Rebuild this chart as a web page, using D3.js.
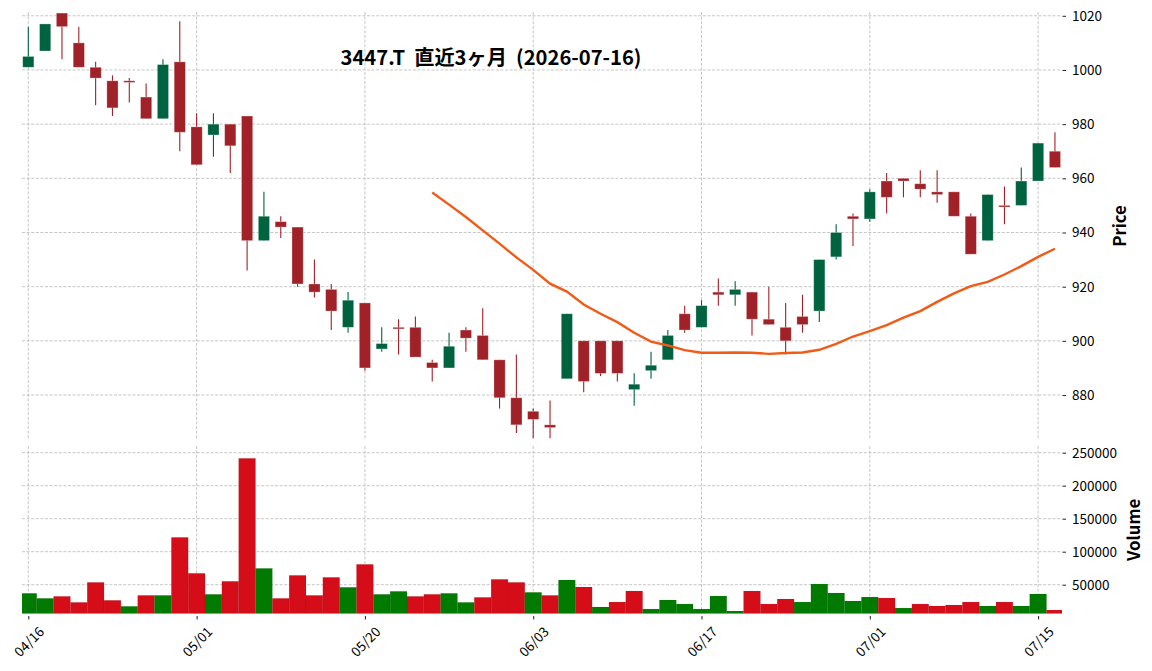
<!DOCTYPE html>
<html>
<head>
<meta charset="utf-8">
<script src="https://cdn.jsdelivr.net/npm/d3@7"></script>
<style>
  body { margin: 0; background: #fff; }
  text { font-family: "Noto Sans CJK JP", "Noto Sans", sans-serif; }
</style>
</head>
<body>
<div id="chart"></div>
<script>
// trading days (04/16 - 07/16)
var dates = ["04/16","04/17","04/20","04/21","04/22","04/23","04/24","04/27","04/28","04/30",
             "05/01","05/07","05/08","05/11","05/12","05/13","05/14","05/15","05/18","05/19",
             "05/20","05/21","05/22","05/25","05/26","05/27","05/28","05/29","06/01","06/02",
             "06/03","06/04","06/05","06/08","06/09","06/10","06/11","06/12","06/15","06/16",
             "06/17","06/18","06/19","06/22","06/23","06/24","06/25","06/26","06/29","06/30",
             "07/01","07/02","07/03","07/06","07/07","07/08","07/09","07/10","07/13","07/14",
             "07/15","07/16"];

var opens  = [1001,1007,1021,1010,1001,996,996,990,982,1003, 979,976,980,983,937,944,942,921,919,905,
              914,897,905,905,892,890,904,902,893,879, 874,869,886,900,900,900,882,889,893,910,
              905,918,917,918,908,905,909,911,931,946, 945,959,960,958,955,955,946,937,950,950,
              959,970];
var highs  = [1016,1017,1021,1016,1003,998,997,995,1004,1018, 984,984,980,983,955,946,942,930,921,918,
              914,905,908,909,893,903,905,912,893,895, 875,878,910,900,900,900,888,896,904,913,
              915,923,922,918,920,914,917,930,943,947, 956,962,960,963,963,955,947,954,957,964,
              973,977];
var lows   = [1001,1007,1004,1001,987,983,988,982,982,970, 965,968,962,926,937,938,920,916,904,903,
              889,896,895,894,885,890,896,893,875,866, 864,864,886,881,887,885,876,886,893,903,
              905,913,913,902,906,895,903,907,930,935, 944,947,953,953,951,946,932,937,943,950,
              959,964];
var closes = [1005,1017,1016,1001,997,986,996,982,1002,977, 965,980,972,937,946,942,921,918,911,915,
              890,899,905,894,890,898,901,893,879,869, 871,868,910,885,888,888,884,891,902,904,
              913,917,919,908,906,900,906,930,940,945, 955,953,959,956,954,946,932,954,950,959,
              973,964];
var volumes = [36900,29300,32300,23200,53500,26300,17200,33800,33800,121700,
               67200,35400,55100,241400,74700,29300,64100,33800,61100,46000,
               80800,35400,39900,32300,35400,36900,23200,30800,58100,53500,
               38400,33800,57100,46500,16200,23700,40400,13100,26800,20700,
               13100,32800,10100,40400,20700,28300,23700,51000,37400,25300,
               31300,29800,14600,20700,17700,19200,23700,17700,23700,17700,
               35900,11600];
// 25-day moving average as drawn
var ma25 = [null,null,null,null,null,null,null,null,null,null,
            null,null,null,null,null,null,null,null,null,null,
            null,null,null,null,954.8,950.3,945.7,940.8,935.9,930.8,
            926.2,921.1,918.2,913.4,910.0,906.9,903.0,899.7,898.3,896.6,
            895.6,895.6,895.7,895.6,895.2,895.5,895.7,896.7,898.9,901.6,
            903.6,905.8,908.6,911.0,914.4,917.5,920.2,921.8,924.5,927.6,
            931.0,934.0];

var tickDates = ["04/16","05/01","05/20","06/03","06/17","07/01","07/15"];
var priceTicks = [880, 900, 920, 940, 960, 980, 1000, 1020];
var volumeTicks = [50000, 100000, 150000, 200000, 250000];
var title = "3447.T\u00a0\u00a0直近3ヶ月\u00a0\u00a0(2026-07-16)";

var w = 1152;
var h = 671;
var left = 22, right = 1062;
var pTop = 12, pBottom = 440;
var vTop = 446, vBottom = 613.7;

var upColor = "#006340", downColor = "#a02128";
var vUpColor = "#007a00", vDownColor = "#d50d18";

var tickIdx = tickDates.map(function(d) { return dates.indexOf(d); });

var x = d3.scaleLinear().domain([-0.375, dates.length - 0.58]).range([left, right]);
var step = x(1) - x(0);
var yP = d3.scaleLinear().domain([863.4, 1021.4]).range([pBottom, pTop]);
var yV = d3.scaleLinear().domain([6061, 260150]).range([vBottom, vTop]);

var svg = d3.select("#chart")
            .append("svg")
            .attr("width", w)
            .attr("height", h);

svg.append("clipPath").attr("id", "clipP")
   .append("rect").attr("x", left).attr("y", pTop).attr("width", right - left).attr("height", pBottom - pTop);
svg.append("clipPath").attr("id", "clipV")
   .append("rect").attr("x", left).attr("y", vTop).attr("width", right - left).attr("height", vBottom - vTop);

// grid
var grid = svg.append("g")
              .attr("stroke", "#b8b8b8")
              .attr("stroke-width", 0.8)
              .attr("stroke-dasharray", "3,1.6");

grid.selectAll(".hp").data(priceTicks).enter().append("line")
    .attr("x1", left).attr("x2", right)
    .attr("y1", function(d) { return yP(d); })
    .attr("y2", function(d) { return yP(d); });
grid.selectAll(".hv").data(volumeTicks).enter().append("line")
    .attr("x1", left).attr("x2", right)
    .attr("y1", function(d) { return yV(d); })
    .attr("y2", function(d) { return yV(d); });
grid.selectAll(".vp").data(tickIdx).enter().append("line")
    .attr("x1", function(d) { return x(d); }).attr("x2", function(d) { return x(d); })
    .attr("y1", pTop).attr("y2", pBottom);
grid.selectAll(".vv").data(tickIdx).enter().append("line")
    .attr("x1", function(d) { return x(d); }).attr("x2", function(d) { return x(d); })
    .attr("y1", vTop).attr("y2", vBottom);

// candles
var candles = svg.append("g").attr("clip-path", "url(#clipP)")
                 .selectAll("g")
                 .data(dates)
                 .enter()
                 .append("g");

function cColor(i) {
    return closes[i] > opens[i] ? upColor : downColor;
}

candles.append("line")
       .attr("x1", function(d, i) { return x(i); })
       .attr("x2", function(d, i) { return x(i); })
       .attr("y1", function(d, i) { return yP(highs[i]); })
       .attr("y2", function(d, i) { return yP(lows[i]); })
       .attr("stroke", function(d, i) { return cColor(i); })
       .attr("stroke-width", 1.1);

candles.append("rect")
       .attr("x", function(d, i) { return x(i) - 5.6; })
       .attr("width", 11.2)
       .attr("y", function(d, i) { return yP(Math.max(opens[i], closes[i])); })
       .attr("height", function(d, i) {
            return Math.max(1.6, Math.abs(yP(opens[i]) - yP(closes[i])));
       })
       .attr("fill", function(d, i) { return cColor(i); })
       .attr("stroke", "#ffffff")
       .attr("stroke-opacity", 0.35)
       .attr("stroke-width", 0.8);

// moving average
var maLine = d3.line()
               .defined(function(d) { return d != null; })
               .x(function(d, i) { return x(i); })
               .y(function(d) { return yP(d); });

svg.append("path")
   .datum(ma25)
   .attr("d", maLine)
   .attr("fill", "none")
   .attr("stroke", "#f25a16")
   .attr("stroke-width", 2.4);

// volume
svg.append("g").attr("clip-path", "url(#clipV)")
   .selectAll("rect")
   .data(volumes)
   .enter()
   .append("rect")
   .attr("x", function(d, i) { return x(i) - step / 2; })
   .attr("width", step)
   .attr("y", function(d) { return yV(d); })
   .attr("height", function(d) { return vBottom - yV(d); })
   .attr("fill", function(d, i) {
        if (i == 0) return vUpColor;
        return closes[i] > closes[i - 1] ? vUpColor : vDownColor;
   })
   .attr("stroke", "#000")
   .attr("stroke-opacity", 0.08)
   .attr("stroke-width", 0.8);

// axes
var pAxis = svg.append("g")
               .attr("transform", "translate(" + (right + 0.5) + ",0)")
               .call(d3.axisRight(yP).tickValues(priceTicks).tickFormat(d3.format("d")).tickSize(3.5).tickPadding(6));
var vAxis = svg.append("g")
               .attr("transform", "translate(" + (right + 0.5) + ",0)")
               .call(d3.axisRight(yV).tickValues(volumeTicks).tickFormat(d3.format("d")).tickSize(3.5).tickPadding(6));
var xAxis = svg.append("g")
               .attr("transform", "translate(0," + (vBottom + 2.3) + ")")
               .call(d3.axisBottom(x).tickValues(tickIdx).tickSize(3.5).tickFormat(""));

[pAxis, vAxis, xAxis].forEach(function(a) {
    a.select(".domain").remove();
    a.selectAll("line").attr("stroke", "#222").attr("stroke-width", 1);
    a.selectAll("text").attr("font-size", "13.5px").attr("fill", "#000")
     .attr("font-family", "Noto Sans CJK JP");
});

svg.selectAll(".xlab")
   .data(tickIdx)
   .enter()
   .append("text")
   .attr("transform", function(d) { return "translate(" + x(d) + ",641) rotate(-45)"; })
   .attr("text-anchor", "middle")
   .attr("dominant-baseline", "central")
   .attr("font-size", "13.5px")
   .attr("fill", "#000")
   .text(function(d) { return dates[d]; });

svg.append("text")
   .attr("transform", "translate(1119," + ((pTop + pBottom) / 2) + ") rotate(-90)")
   .attr("text-anchor", "middle")
   .attr("dominant-baseline", "central")
   .attr("font-size", "16.7px")
   .attr("font-weight", "bold")
   .text("Price");

svg.append("text")
   .attr("transform", "translate(1133," + ((vTop + vBottom) / 2) + ") rotate(-90)")
   .attr("text-anchor", "middle")
   .attr("dominant-baseline", "central")
   .attr("font-size", "16.7px")
   .attr("font-weight", "bold")
   .text("Volume");

svg.append("text")
   .attr("x", 491)
   .attr("y", 64.5)
   .attr("text-anchor", "middle")
   .attr("font-size", "20.2px")
   .attr("font-weight", "bold")
   .text(title);
</script>
</body>
</html>
